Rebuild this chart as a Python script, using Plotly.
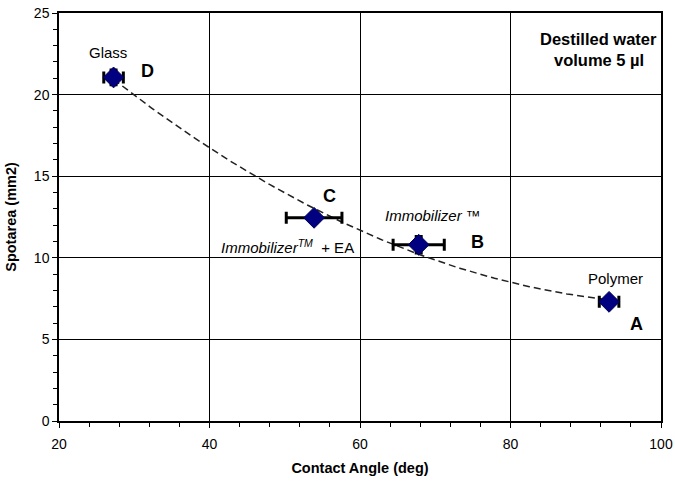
import numpy as np
import plotly.graph_objects as go

labels = ["Glass", "Immobilizer™ + EA", "Immobilizer™", "Polymer"]
letters = ["D", "C", "B", "A"]
contact_angle = [27.25, 53.9, 67.8, 93.1]
spotarea = [21.05, 12.45, 10.8, 7.3]
angle_err = [1.3, 3.7, 3.4, 1.3]
area_err = [0.45, 0.3, 0.5, 0.2]

x_ticks = [20, 40, 60, 80, 100]
y_ticks = [0, 5, 10, 15, 20, 25]

# second order trendline of the data (as in the original spreadsheet)
coef = np.polyfit(contact_angle, spotarea, 2)
xt = np.linspace(min(contact_angle), max(contact_angle), 200)
yt = np.polyval(coef, xt)

fig = go.Figure()
fig.add_trace(go.Scatter(x=xt, y=yt, mode="lines",
                         line=dict(color="#222222", width=1.5, dash="7px,4px"),
                         hoverinfo="skip", showlegend=False))
fig.add_trace(go.Scatter(
    x=contact_angle, y=spotarea, mode="markers",
    marker=dict(symbol="diamond", size=16, color="#000080",
                line=dict(color="#000050", width=1)),
    error_x=dict(type="data", array=angle_err, color="black", thickness=3, width=6),
    error_y=dict(type="data", array=area_err, color="black", thickness=3, width=4),
    showlegend=False))

font = "Liberation Sans, Arial, sans-serif"
ann = []
def add(x, y, text, size=15, bold=False):
    t = f"<b>{text}</b>" if bold else text
    ann.append(dict(x=x, y=y, xref="x", yref="y", text=t, showarrow=False,
                    font=dict(family=font, size=size, color="black"), xanchor="center"))

add(26.5, 22.6, "Glass")
add(31.7, 21.45, "D", size=18, bold=True)
add(56.0, 13.8, "C", size=18, bold=True)
add(50.4, 10.72, "<i>Immobilizer<sup>TM</sup></i>  + EA")
add(69.7, 12.62, "<i>Immobilizer</i> <i>™</i>")
add(75.6, 10.94, "B", size=18, bold=True)
add(93.9, 8.76, "Polymer")
add(96.8, 5.97, "A", size=18, bold=True)
add(91.76, 23.4, "Destilled water", size=16.5, bold=True)
add(91.76, 22.1, "volume 5 µl", size=16.5, bold=True)

fig.update_layout(
    width=675, height=482,
    margin=dict(l=59, r=14, t=13, b=61),
    paper_bgcolor="white", plot_bgcolor="white",
    font=dict(family=font, size=14, color="black"),
    annotations=ann,
    xaxis=dict(range=[20, 100], tickvals=x_ticks, showgrid=True, gridcolor="black", gridwidth=1,
               showline=True, linecolor="black", linewidth=1.5, mirror=True, automargin=False,
               ticks="outside", ticklen=5, tickcolor="black", zeroline=False, ticklabelstandoff=4,
               ticklabeloverflow="allow",
               minor=dict(dtick=4, ticks="outside", ticklen=4, tickcolor="black", showgrid=False),
               title=dict(text="<b>Contact Angle (deg)</b>", font=dict(size=14.5), standoff=12),
               tickfont=dict(size=14)),
    yaxis=dict(range=[0, 25], tickvals=y_ticks, showgrid=True, gridcolor="black", gridwidth=1,
               showline=True, linecolor="black", linewidth=1.5, mirror=True, automargin=False,
               ticks="outside", ticklen=5, tickcolor="black", zeroline=False,
               ticklabeloverflow="allow",
               minor=dict(dtick=1, ticks="outside", ticklen=4, tickcolor="black", showgrid=False),
               title=dict(text="<b>Spotarea (mm2)</b>", font=dict(size=14.5), standoff=14),
               tickfont=dict(size=14)),
)
# remove the default page margin so the figure fills the window exactly
fig.write_html("out.html", config={"displayModeBar": False},
               post_script="document.body.style.margin='0';")
